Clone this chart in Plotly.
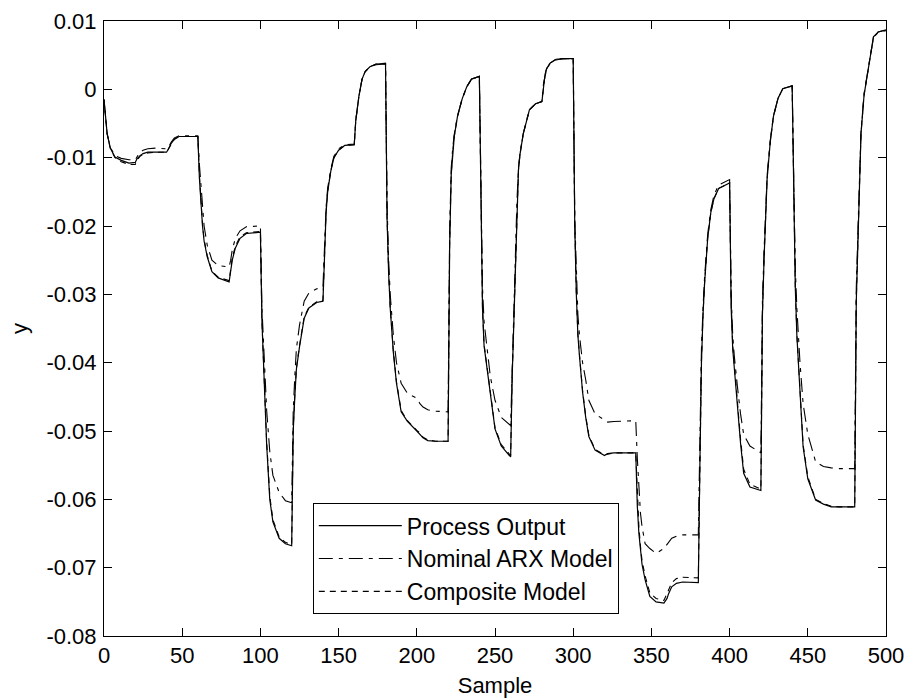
import plotly.graph_objects as go

sample = [0, 1, 2, 4, 7, 11, 16, 20,
          21, 23, 25, 28, 33, 40,
          41, 43, 45, 48, 52, 60,
          61, 62, 63, 64, 66, 69, 73, 80,
          81, 82, 84, 87, 91, 100,
          101, 102, 103, 104, 106, 108, 112, 116, 120,
          121, 122, 123, 125, 128, 131, 136, 140,
          141, 142, 143, 145, 147, 150, 154, 160,
          161, 162, 163, 165, 167, 170, 174, 180,
          181, 182, 183, 185, 187, 190, 194, 200,
          202, 204, 207, 212, 220,
          221, 222, 223, 224, 226, 229, 232, 235, 240,
          241, 242, 243, 245, 247, 250, 254, 260,
          261, 262, 263, 264, 265, 266, 268, 272, 276, 280,
          281, 282, 283, 285, 289, 294, 300,
          301, 302, 303, 304, 306, 308, 310, 314, 320,
          322, 326, 340,
          341, 342, 343, 344, 346, 349, 353, 358, 360,
          361, 363, 366, 370, 380,
          381, 382, 383, 384, 386, 388, 390, 393, 400,
          401, 402, 403, 405, 407, 409, 413, 420,
          421, 422, 423, 424, 426, 428, 431, 434, 440,
          441, 442, 443, 445, 447, 450, 455, 460,
          465, 470, 480,
          481, 482, 483, 484, 486, 489, 492, 495, 500]

process_output = [-0.0015, -0.0045, -0.0065, -0.0086, -0.0099, -0.0104, -0.0108, -0.0107,
                  -0.0102, -0.0097, -0.0094, -0.0092, -0.0092, -0.0092,
                  -0.0088, -0.0079, -0.0073, -0.0069, -0.0069, -0.0069,
                  -0.0130, -0.0170, -0.0200, -0.0222, -0.0245, -0.0267, -0.0276, -0.0282,
                  -0.0265, -0.0250, -0.0232, -0.0218, -0.0211, -0.0209,
                  -0.0340, -0.0400, -0.0460, -0.0520, -0.0600, -0.0633, -0.0657, -0.0665, -0.0668,
                  -0.0500, -0.0450, -0.0410, -0.0377, -0.0335, -0.0320, -0.0312, -0.0310,
                  -0.0235, -0.0180, -0.0150, -0.0120, -0.0100, -0.0089, -0.0082, -0.0081,
                  -0.0045, -0.0025, -0.0010, 0.0015, 0.0026, 0.0033, 0.0037, 0.0038,
                  -0.0190, -0.0270, -0.0320, -0.0385, -0.0430, -0.0472, -0.0486, -0.0500,
                  -0.0505, -0.0510, -0.0514, -0.0515, -0.0515,
                  -0.0230, -0.0125, -0.0090, -0.0068, -0.0040, -0.0014, 0.0004, 0.0015, 0.0019,
                  -0.0200, -0.0320, -0.0375, -0.0410, -0.0452, -0.0497, -0.0522, -0.0538,
                  -0.0420, -0.0340, -0.0250, -0.0170, -0.0118, -0.0095, -0.0066, -0.0030, -0.0021, -0.0018,
                  0.0008, 0.0022, 0.0030, 0.0038, 0.0044, 0.0045, 0.0045,
                  -0.0200, -0.0300, -0.0360, -0.0390, -0.0443, -0.0480, -0.0508, -0.0528, -0.0536,
                  -0.0533, -0.0532, -0.0532,
                  -0.0610, -0.0650, -0.0675, -0.0695, -0.0718, -0.0742, -0.0750, -0.0752, -0.0745,
                  -0.0738, -0.0728, -0.0723, -0.0721, -0.0722,
                  -0.0550, -0.0400, -0.0330, -0.0284, -0.0218, -0.0180, -0.0160, -0.0145, -0.0137,
                  -0.0320, -0.0380, -0.0410, -0.0465, -0.0518, -0.0562, -0.0582, -0.0587,
                  -0.0330, -0.0250, -0.0180, -0.0130, -0.0077, -0.0040, -0.0013, 0.0001, 0.0005,
                  -0.0180, -0.0290, -0.0360, -0.0450, -0.0523, -0.0570, -0.0601, -0.0607,
                  -0.0611, -0.0611, -0.0611,
                  -0.0310, -0.0230, -0.0120, -0.0065, -0.0008, 0.0036, 0.0077, 0.0084, 0.0087]

nominal_arx = [-0.0015, -0.0045, -0.0065, -0.0085, -0.0097, -0.0101, -0.0103, -0.0103,
               -0.0099, -0.0092, -0.0089, -0.0087, -0.0086, -0.0087,
               -0.0086, -0.0077, -0.0071, -0.0068, -0.0068, -0.0068,
               -0.0110, -0.0145, -0.0175, -0.0200, -0.0228, -0.0250, -0.0258, -0.0260,
               -0.0250, -0.0235, -0.0218, -0.0207, -0.0201, -0.0200,
               -0.0320, -0.0370, -0.0420, -0.0470, -0.0530, -0.0565, -0.0590, -0.0602, -0.0605,
               -0.0470, -0.0420, -0.0380, -0.0345, -0.0310, -0.0298, -0.0292, -0.0289,
               -0.0225, -0.0172, -0.0145, -0.0117, -0.0098, -0.0087, -0.0081, -0.0080,
               -0.0045, -0.0025, -0.0010, 0.0015, 0.0026, 0.0033, 0.0036, 0.0037,
               -0.0170, -0.0250, -0.0300, -0.0360, -0.0400, -0.0430, -0.0445, -0.0452,
               -0.0460, -0.0465, -0.0469, -0.0471, -0.0472,
               -0.0210, -0.0115, -0.0085, -0.0065, -0.0039, -0.0014, 0.0004, 0.0015, 0.0019,
               -0.0180, -0.0290, -0.0340, -0.0380, -0.0420, -0.0455, -0.0480, -0.0492,
               -0.0400, -0.0320, -0.0240, -0.0165, -0.0115, -0.0093, -0.0065, -0.0030, -0.0021, -0.0018,
               0.0008, 0.0021, 0.0029, 0.0037, 0.0043, 0.0045, 0.0045,
               -0.0190, -0.0280, -0.0330, -0.0360, -0.0400, -0.0425, -0.0455, -0.0475, -0.0485,
               -0.0487, -0.0486, -0.0485,
               -0.0540, -0.0590, -0.0620, -0.0640, -0.0665, -0.0672, -0.0679, -0.0672, -0.0666,
               -0.0662, -0.0657, -0.0654, -0.0652, -0.0652,
               -0.0500, -0.0380, -0.0320, -0.0275, -0.0212, -0.0176, -0.0155, -0.0140, -0.0132,
               -0.0300, -0.0360, -0.0390, -0.0435, -0.0475, -0.0505, -0.0522, -0.0532,
               -0.0310, -0.0238, -0.0172, -0.0126, -0.0075, -0.0039, -0.0013, 0.0001, 0.0005,
               -0.0160, -0.0260, -0.0320, -0.0400, -0.0460, -0.0505, -0.0545, -0.0552,
               -0.0554, -0.0555, -0.0555,
               -0.0290, -0.0210, -0.0115, -0.0062, -0.0006, 0.0036, 0.0076, 0.0083, 0.0086]

composite = [-0.0015, -0.0045, -0.0065, -0.0086, -0.0100, -0.0106, -0.0110, -0.0110,
             -0.0104, -0.0098, -0.0095, -0.0093, -0.0092, -0.0092,
             -0.0088, -0.0079, -0.0073, -0.0069, -0.0069, -0.0069,
             -0.0125, -0.0165, -0.0198, -0.0220, -0.0243, -0.0266, -0.0275, -0.0280,
             -0.0262, -0.0247, -0.0229, -0.0216, -0.0210, -0.0208,
             -0.0340, -0.0395, -0.0455, -0.0515, -0.0595, -0.0630, -0.0655, -0.0663, -0.0666,
             -0.0495, -0.0447, -0.0408, -0.0375, -0.0333, -0.0319, -0.0311, -0.0309,
             -0.0232, -0.0178, -0.0149, -0.0119, -0.0100, -0.0089, -0.0082, -0.0081,
             -0.0045, -0.0025, -0.0010, 0.0015, 0.0026, 0.0033, 0.0037, 0.0038,
             -0.0188, -0.0268, -0.0318, -0.0383, -0.0428, -0.0470, -0.0485, -0.0499,
             -0.0503, -0.0509, -0.0513, -0.0515, -0.0515,
             -0.0228, -0.0124, -0.0090, -0.0068, -0.0040, -0.0014, 0.0004, 0.0015, 0.0019,
             -0.0198, -0.0318, -0.0373, -0.0408, -0.0450, -0.0495, -0.0520, -0.0536,
             -0.0418, -0.0338, -0.0249, -0.0170, -0.0118, -0.0095, -0.0066, -0.0030, -0.0021, -0.0018,
             0.0008, 0.0022, 0.0030, 0.0038, 0.0044, 0.0045, 0.0045,
             -0.0198, -0.0298, -0.0358, -0.0388, -0.0441, -0.0478, -0.0506, -0.0527, -0.0535,
             -0.0534, -0.0532, -0.0532,
             -0.0600, -0.0640, -0.0668, -0.0690, -0.0712, -0.0737, -0.0745, -0.0748, -0.0738,
             -0.0732, -0.0722, -0.0716, -0.0714, -0.0715,
             -0.0540, -0.0398, -0.0329, -0.0283, -0.0217, -0.0180, -0.0160, -0.0145, -0.0137,
             -0.0310, -0.0375, -0.0405, -0.0460, -0.0512, -0.0556, -0.0578, -0.0585,
             -0.0328, -0.0249, -0.0179, -0.0130, -0.0077, -0.0040, -0.0013, 0.0001, 0.0005,
             -0.0178, -0.0288, -0.0358, -0.0448, -0.0520, -0.0567, -0.0600, -0.0606,
             -0.0610, -0.0611, -0.0611,
             -0.0308, -0.0228, -0.0120, -0.0065, -0.0008, 0.0036, 0.0077, 0.0084, 0.0087]

series_names = ["Process Output", "Nominal ARX Model", "Composite Model"]
x_ticks = [0, 50, 100, 150, 200, 250, 300, 350, 400, 450, 500]
y_ticks = [-0.08, -0.07, -0.06, -0.05, -0.04, -0.03, -0.02, -0.01, 0, 0.01]
y_tick_labels = ["-0.08", "-0.07", "-0.06", "-0.05", "-0.04", "-0.03", "-0.02", "-0.01", "0", "0.01"]

FONT = "Arial, Liberation Sans, Helvetica, sans-serif"
FS = 22

fig = go.Figure()
fig.add_trace(go.Scatter(x=sample, y=process_output, mode="lines", name=series_names[0],
                         legendgroup="a",
                         line=dict(color="black", width=1.2)))
fig.add_trace(go.Scatter(x=sample, y=nominal_arx, mode="lines", name=series_names[1],
                         legendgroup="b",
                         line=dict(color="black", width=1.1, dash="14px,6px,4px,6px")))
fig.add_trace(go.Scatter(x=sample, y=composite, mode="lines", name=series_names[2],
                         legendgroup="c",
                         line=dict(color="black", width=1.1, dash="6px,5px")))

axis_common = dict(showline=True, linecolor="black", linewidth=1, mirror="ticks",
                   ticks="inside", ticklen=8, tickcolor="black", tickwidth=1,
                   showgrid=False, zeroline=False, automargin=False,
                   tickfont=dict(family=FONT, size=FS, color="black"))

fig.update_xaxes(range=[0, 500], tickvals=x_ticks,
                 title=dict(text="Sample", font=dict(family=FONT, size=FS, color="black"), standoff=10),
                 **axis_common)
fig.update_yaxes(range=[-0.08, 0.01], tickvals=y_ticks, ticktext=y_tick_labels,
                 ticklabelstandoff=2,
                 title=dict(text="y", font=dict(family=FONT, size=FS, color="black"), standoff=12),
                 **axis_common)

fig.update_layout(
    width=907, height=700,
    margin=dict(l=104, r=21, t=21, b=64, autoexpand=False),
    paper_bgcolor="white", plot_bgcolor="white",
    font=dict(family=FONT, size=FS, color="black"),
    legend=dict(x=0.267, y=0.216, xanchor="left", yanchor="top",
                bgcolor="white", bordercolor="black", borderwidth=1,
                font=dict(family=FONT, size=23, color="black"),
                tracegroupgap=0, itemwidth=83),
    showlegend=True,
)

# remove the browser's default page margin so the 907x700 figure fills the window exactly
fig.write_html("out.html",
               config={"displayModeBar": False},
               post_script="document.body.style.margin='0';document.body.style.overflow='hidden';")
